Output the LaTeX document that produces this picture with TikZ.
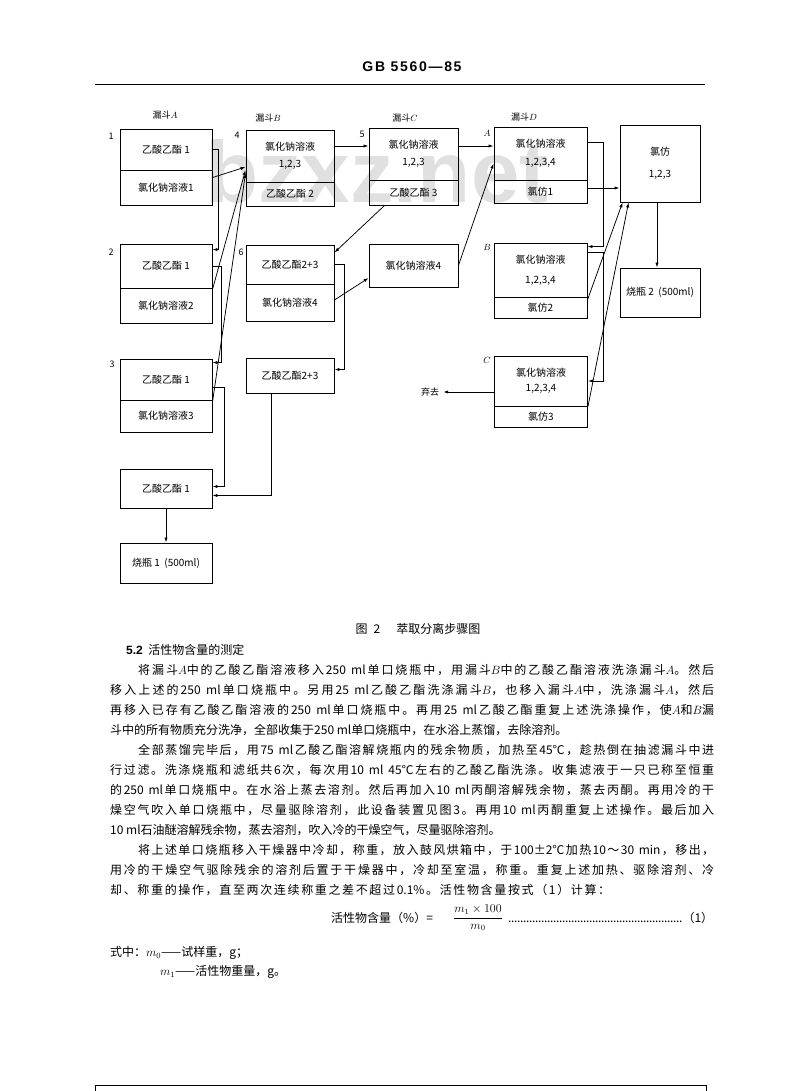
\documentclass[tikz,border=0pt]{standalone}
\usepackage{fontspec}
\setmainfont{Noto Sans CJK SC}
\newfontfamily\hdrfont[LetterSpace=12]{Liberation Sans}
\newfontfamily\wmfont{Liberation Sans}
\usetikzlibrary{arrows.meta,calc}

% inter-character stretch for CJK justification
\XeTeXinterchartokenstate=1
\newcount\cjkc
\cjkc="3000 \loop\ifnum\cjkc<"A000 \XeTeXcharclass\cjkc=7 \advance\cjkc by 1 \repeat
\cjkc="FF00 \loop\ifnum\cjkc<"FFF0 \XeTeXcharclass\cjkc=7 \advance\cjkc by 1 \repeat
\XeTeXinterchartoks 7 7 = {\hskip 0pt plus 1pt\relax}
\XeTeXinterchartoks 7 0 = {\hskip 0pt plus 1pt\relax}
\XeTeXinterchartoks 0 7 = {\hskip 0pt plus 1pt\relax}

\newcommand\diafont{\fontsize{10}{12}\selectfont}
\newcommand\smallfnt{\fontsize{9}{11}\selectfont}
\newcommand\bodyfont{\fontsize{12}{14}\selectfont}
\newcommand\fullline[1]{\hbox to 604pt{#1}}
\newcommand\indline[1]{\hbox to 576pt{#1}}

\tikzset{
  lay/.style={draw, line width=0.9pt, inner sep=0pt, font=\diafont, align=center},
  lbl/.style={inner sep=0pt, font=\smallfnt},
  arr/.style={line width=0.75pt, -{Latex[length=5pt,width=3.2pt]}},
  body/.style={inner sep=0pt, font=\bodyfont, anchor=west},
}

\begin{document}
\begin{tikzpicture}[x=1pt,y=-1pt]
\useasboundingbox (0,0) rectangle (800,1091);

% watermark
\node[anchor=base west, inner sep=0pt, text=black!12,
      font=\wmfont\bfseries\fontsize{87}{87}\selectfont] (wm) at (205,203) {bzxz.net};

% header
\node[inner sep=0pt, font=\hdrfont\bfseries\fontsize{14}{16}\selectfont] (hdr) at (412,67) {GB 5560—85};
\draw[line width=0.8pt] (95,84) -- (705,84);

% funnel labels
\node[lbl] (lA) at (165,115) {漏斗$A$};
\node[lbl] (lB) at (268,118) {漏斗$B$};
\node[lbl] (lC) at (405,118) {漏斗$C$};
\node[lbl] (lD) at (524,117) {漏斗$D$};

% column A
\node[lay, minimum width=92pt, minimum height=41pt] (A1t) at (166,149.5) {乙酸乙酯\ 1};
\node[lay, minimum width=92pt, minimum height=35pt] (A1b) at (166,187.5) {氯化钠溶液1};
\node[lay, minimum width=92pt, minimum height=44pt] (A2t) at (166,266) {乙酸乙酯\ 1};
\node[lay, minimum width=92pt, minimum height=35pt] (A2b) at (166,305.5) {氯化钠溶液2};
\node[lay, minimum width=92pt, minimum height=41pt] (A3t) at (166,379.5) {乙酸乙酯\ 1};
\node[lay, minimum width=92pt, minimum height=32pt] (A3b) at (166,416) {氯化钠溶液3};
\node[lay, minimum width=92pt, minimum height=39pt] (A4) at (166,488.5) {乙酸乙酯\ 1};
\node[lay, minimum width=92pt, minimum height=40pt] (F1) at (166,563) {烧瓶\ 1\ \ (500ml)};

% column B
\node[lay, minimum width=88pt, minimum height=52pt] (B1t) at (290,156) {氯化钠溶液\\[5pt]1,2,3};
\node[lay, minimum width=88pt, minimum height=24pt] (B1b) at (290,194) {乙酸乙酯\ 2};
\node[lay, minimum width=88pt, minimum height=39pt] (B2t) at (290,264.5) {乙酸乙酯2+3};
\node[lay, minimum width=88pt, minimum height=37pt] (B2b) at (290,302.5) {氯化钠溶液4};
\node[lay, minimum width=88pt, minimum height=35pt] (B3) at (290,375.5) {乙酸乙酯2+3};

% column C
\node[lay, minimum width=89pt, minimum height=52pt] (C1t) at (413.5,154) {氯化钠溶液\\[5pt]1,2,3};
\node[lay, minimum width=89pt, minimum height=25pt] (C1b) at (413.5,192.5) {乙酸乙酯\ 3};
\node[lay, minimum width=89pt, minimum height=43pt] (C2) at (413.5,265.5) {氯化钠溶液4};

% column D
\node[lay, minimum width=93pt, minimum height=53pt] (D1t) at (540.5,153.5) {氯化钠溶液\\[6pt]1,2,3,4};
\node[lay, minimum width=93pt, minimum height=23pt] (D1b) at (540.5,191.5) {氯仿1};
\node[lay, minimum width=93pt, minimum height=54pt] (D2t) at (540.5,270) {氯化钠溶液\\[8pt]1,2,3,4};
\node[lay, minimum width=93pt, minimum height=21pt] (D2b) at (540.5,307.5) {氯仿2};
\node[lay, minimum width=93pt, minimum height=50pt] (D3t) at (541,381) {氯化钠溶液\\[3pt]1,2,3,4};
\node[lay, minimum width=93pt, minimum height=21pt] (D3b) at (541,416.5) {氯仿3};

% column E
\node[lay, minimum width=80pt, minimum height=77pt] (E1) at (660,163.5) {氯仿\\[10pt]1,2,3};
\node[lay, minimum width=80pt, minimum height=49pt] (F2) at (660,292.5) {烧瓶\ 2\ \ (500ml)};

% step labels
\node[lbl] (n1) at (111,136) {1};
\node[lbl] (n2) at (111,252) {2};
\node[lbl] (n3) at (112,364) {3};
\node[lbl] (n4) at (237,135) {4};
\node[lbl] (n5) at (362,134) {5};
\node[lbl] (n6) at (241,252) {6};
\node[lbl] (nA) at (487,133) {$A$};
\node[lbl] (nB) at (487,247) {$B$};
\node[lbl] (nC) at (487,360) {$C$};
\node[lbl] (qq) at (430,392) {弃去};

% connectors
\draw[arr] (A1t.east) -- ++(6,0) |- ([yshift=-6pt]A2t.north east);
\draw[arr] (A2t.east) -- ++(9,0) |- ([yshift=-4pt]A3t.north east);
\draw[arr] ([yshift=-8pt]A3t.east) -- ++(12,0) |- ([yshift=2pt]A4.east);
\draw[arr] ([xshift=-19pt]B3.south) |- ([yshift=-7pt]A4.east);
\draw[arr] ([yshift=-8pt]A1b.north east) -- ([yshift=-11pt]B1t.west);
\draw[arr] ([yshift=-2pt]A2b.north east) -- ([yshift=-14pt]B1t.west);
\draw[arr] ([yshift=-3pt]A3b.north east) -- ([yshift=-17pt]B1t.west);
\draw[arr] ([yshift=10pt]B1t.east) -- ([yshift=8pt]C1t.west);
\draw[arr] ([xshift=16pt]C1b.south west) -- ([yshift=-8pt]B2t.north east);
\draw[arr] ([yshift=2.5pt]B2b.east) -- ([yshift=-12.5pt]C2.west);
\draw[arr] (B2t.east) -- ++(10,0) |- ([yshift=6pt]B3.east);
\draw[arr] (C2.east) -- ([yshift=-10pt]D1t.west);
\draw[arr] ([yshift=8pt]C1t.east) -- ([yshift=7.5pt]D1t.west);
\draw[arr] ([yshift=11.5pt]D1t.east) -- ++(16,0) |- ([yshift=-4pt]D2t.north east);
\draw[arr] ([yshift=3.5pt]D1b.east) -- ([yshift=-24.5pt]E1.west);
\draw[arr] ([yshift=18pt]D2t.east) -- ++(16,0) |- (D3t.east);
\draw[arr] ([yshift=7.5pt]D2b.east) -- ([xshift=3pt]E1.south west);
\draw[arr] ([yshift=-1pt]D3b.north east) -- ([xshift=9pt]E1.south west);
\draw[arr] ([yshift=-11pt]D3t.west) -- ([xshift=4pt]qq.east);
\draw[arr] ([xshift=-3pt]E1.south) -- ([xshift=-3pt]F2.north);
\draw[arr] (A4.south) -- (F1.north);

% caption and text
\node[inner sep=0pt, font=\bodyfont] (cap) at (418,629) {图\hspace{6pt}2\hspace{16pt}萃取分离步骤图};
\node[body] (h52) at (126,650) {{\wmfont\bfseries 5.2}\ \ 活性物含量的测定};
\node[body] (L1) at (138,670) {\indline{将漏斗$A$中的乙酸乙酯溶液移入250 ml单口烧瓶中，用漏斗$B$中的乙酸乙酯溶液洗涤漏斗$A$。然后}};
\node[body] (L2) at (110,690) {\fullline{移入上述的250 ml单口烧瓶中。另用25 ml乙酸乙酯洗涤漏斗$B$，也移入漏斗$A$中，洗涤漏斗$A$，然后}};
\node[body] (L3) at (110,710) {\fullline{再移入已存有乙酸乙酯溶液的250 ml单口烧瓶中。再用25 ml乙酸乙酯重复上述洗涤操作，使$A$和$B$漏}};
\node[body] (L4) at (110,730) {斗中的所有物质充分洗净，全部收集于250 ml单口烧瓶中，在水浴上蒸馏，去除溶剂。};
\node[body] (L5) at (138,750) {\indline{全部蒸馏完毕后，用75 ml乙酸乙酯溶解烧瓶内的残余物质，加热至45℃，趁热倒在抽滤漏斗中进}};
\node[body] (L6) at (110,770) {\fullline{行过滤。洗涤烧瓶和滤纸共6次，每次用10 ml 45℃左右的乙酸乙酯洗涤。收集滤液于一只已称至恒重}};
\node[body] (L7) at (110,790) {\fullline{的250 ml单口烧瓶中。在水浴上蒸去溶剂。然后再加入10 ml丙酮溶解残余物，蒸去丙酮。再用冷的干}};
\node[body] (L8) at (110,810) {\fullline{燥空气吹入单口烧瓶中，尽量驱除溶剂，此设备装置见图3。再用10 ml丙酮重复上述操作。最后加入}};
\node[body] (L9) at (110,830) {10 ml石油醚溶解残余物，蒸去溶剂，吹入冷的干燥空气，尽量驱除溶剂。};
\node[body] (L10) at (138,850) {\indline{将上述单口烧瓶移入干燥器中冷却，称重，放入鼓风烘箱中，于100±2℃加热10～30 min，移出，}};
\node[body] (L11) at (110,870) {\fullline{用冷的干燥空气驱除残余的溶剂后置于干燥器中，冷却至室温，称重。重复上述加热、驱除溶剂、冷}};
\node[body] (L12) at (110,890) {\hbox to 500pt{却、称重的操作，直至两次连续称重之差不超过0.1\%。活性物含量按式（1）计算：}};

% formula
\node[body] (fl) at (331,918) {活性物含量（\%）=};
\node[inner sep=0pt, font=\bodyfont] (frac) at (478,918) {$\displaystyle\frac{m_1\times 100}{m_0}$};
\node[body] (dots) at (508,918) {\hbox to 205pt{\leaders\hbox to 3pt{\hss.\hss}\hfill（1）}};
\node[body] (s1) at (110,953) {式中：$m_0$——试样重，g；};
\node[body] (s2) at (160,972) {$m_1$——活性物重量，g。};

% bottom frame
\draw[line width=1pt] (95,1091) -- (95,1085) -- (706,1085) -- (706,1091);
\end{tikzpicture}
\end{document}
